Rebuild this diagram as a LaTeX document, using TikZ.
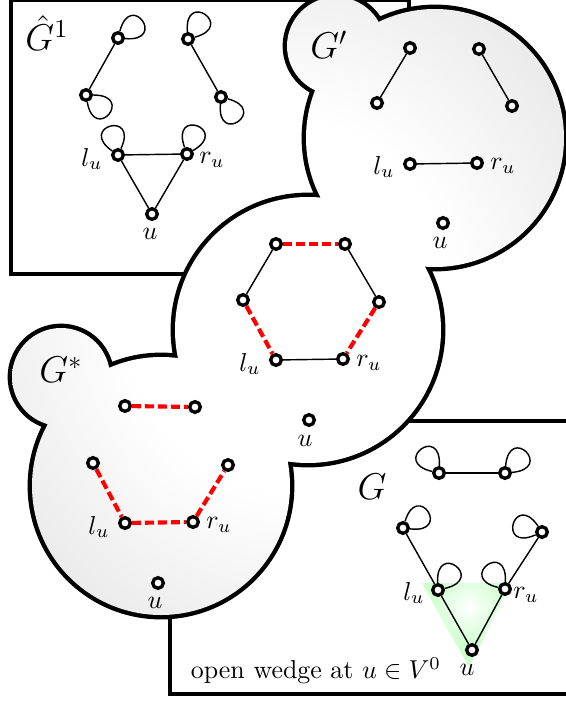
\documentclass[tikz,border=0pt]{standalone}
\usepackage{amsmath}
\usepackage{amssymb}
\usepackage{xcolor}
\usepackage{tikz}
\usetikzlibrary{arrows, arrows.meta}
\usetikzlibrary{positioning}
\usetikzlibrary{calc}

\pgfdeclareradialshading{blobshade}{\pgfpointorigin}{color(0bp)=(white); color(15bp)=(white); color(45bp)=(black!16); color(50bp)=(black!16)}

\begin{document}
\begin{tikzpicture}[x=0.386pt, y=-0.386pt,
	vtx/.style={circle, draw=black, fill=white, line width=1.3pt, inner sep=0pt, minimum size=4.1pt},
	edge/.style={line width=0.55pt},
	redge/.style={draw=red, line width=1.6pt, dash pattern=on 3.5pt off 1.5pt},
	lp/.style={line width=0.55pt, distance=16.5pt},
	frame/.style={line width=1.6pt},
	big/.style={font=\Large}]
	\useasboundingbox (0,0) rectangle (566,702);
	\clip (0,0) rectangle (566,702);
	% the two boxes
	\draw[frame, fill=white] (11,0) rectangle (409,274);
	\draw[frame, fill=white] (170,421) rectangle (600,694);
	% the blobs
	\coordinate (cPrime) at (435,138);
	\coordinate (cPrimeEar) at (336,46);
	\coordinate (cMid) at (308,330);
	\coordinate (cStar) at (161,486);
	\coordinate (cStarEar) at (61,377);
	\draw[line width=3.4pt] (cPrime) circle (129) (cPrimeEar) circle (49) (cMid) circle (133) (cStar) circle (129) (cStarEar) circle (49);
	\shade[shading=blobshade] (cPrime) circle (129) (cPrimeEar) circle (49) (cMid) circle (133) (cStar) circle (129) (cStarEar) circle (49);
	% green wedge
	\coordinate (w1) at (422,583);
	\coordinate (w2) at (511,583);
	\coordinate (w3) at (469,667);
	\fill[green!20] (w1) -- (w2) -- (w3) -- cycle;
	\begin{scope}
		\clip (w1) -- (w2) -- (w3) -- cycle;
		\shade[inner color=white, outer color=green!20] (469,607) circle (40);
	\end{scope}

	% hat G^1
	\node[big] (hatG) at (47,33) {$\hat{G}^1$};
	\node[vtx] (h1) at (118,38) {};
	\node[vtx] (h2) at (86,95) {};
	\node[vtx] (h3) at (188,39) {};
	\node[vtx] (h4) at (221,97) {};
	\node[vtx] (h5) at (118,155) {};
	\node[vtx] (h6) at (187,154) {};
	\node[vtx] (h7) at (152,214) {};
	\node (h5l) at (92,159) {$l_u$};
	\node (h6l) at (212,160) {$r_u$};
	\node (h7l) at (150,234) {$u$};
	\draw[edge] (h1) -- (h2);
	\draw[edge] (h3) -- (h4);
	\draw[edge] (h5) -- (h6);
	\draw[edge] (h5) -- (h7);
	\draw[edge] (h6) -- (h7);
	\draw[lp] (h1) to[out=75,in=-5] (h1);
	\draw[lp] (h2) to[out=0,in=-80] (h2);
	\draw[lp] (h3) to[out=95,in=15] (h3);
	\draw[lp] (h4) to[out=-15,in=-95] (h4);
	\draw[lp] (h5) to[out=145,in=65] (h5);
	\draw[lp] (h6) to[out=110,in=30] (h6);

	% G'
	\node[big] (primeG) at (329,45) {$G'$};
	\node[vtx] (p1) at (410,48) {};
	\node[vtx] (p2) at (377,103) {};
	\node[vtx] (p3) at (479,49) {};
	\node[vtx] (p4) at (512,106) {};
	\node[vtx] (p5) at (410,164) {};
	\node[vtx] (p6) at (477,163) {};
	\node[vtx] (p7) at (443,223) {};
	\node (p5l) at (384,167) {$l_u$};
	\node (p6l) at (503,166) {$r_u$};
	\node (p7l) at (440,243) {$u$};
	\draw[edge] (p1) -- (p2);
	\draw[edge] (p3) -- (p4);
	\draw[edge] (p5) -- (p6);

	% middle
	\node[vtx] (m1) at (276,244) {};
	\node[vtx] (m2) at (345,244) {};
	\node[vtx] (m3) at (243,300) {};
	\node[vtx] (m4) at (379,302) {};
	\node[vtx] (m5) at (276,360) {};
	\node[vtx] (m6) at (343,359) {};
	\node[vtx] (m7) at (309,420) {};
	\node (m5l) at (250,364) {$l_u$};
	\node (m6l) at (369,363) {$r_u$};
	\node (m7l) at (305,441) {$u$};
	\draw[redge] (m1) -- (m2);
	\draw[edge] (m1) -- (m3);
	\draw[edge] (m2) -- (m4);
	\draw[redge] (m3) -- (m5);
	\draw[redge] (m4) -- (m6);
	\draw[edge] (m5) -- (m6);

	% G^*
	\node[big] (starG) at (61,370) {$G^*$};
	\node[vtx] (s1) at (125,406) {};
	\node[vtx] (s2) at (195,407) {};
	\node[vtx] (s3) at (93,463) {};
	\node[vtx] (s4) at (228,465) {};
	\node[vtx] (s5) at (125,523) {};
	\node[vtx] (s6) at (193,522) {};
	\node[vtx] (s7) at (158,583) {};
	\node (s5l) at (99,527) {$l_u$};
	\node (s6l) at (219,525) {$r_u$};
	\node (s7l) at (155,603) {$u$};
	\draw[redge] (s1) -- (s2);
	\draw[redge] (s3) -- (s5);
	\draw[redge] (s5) -- (s6);
	\draw[redge] (s6) -- (s4);

	% G
	\node[big] (plainG) at (372,487) {$G$};
	\node[vtx] (g1) at (439,473) {};
	\node[vtx] (g2) at (505,473) {};
	\node[vtx] (g3) at (403,528) {};
	\node[vtx] (g4) at (542,532) {};
	\node[vtx] (g5) at (438,590) {};
	\node[vtx] (g6) at (505,589) {};
	\node[vtx] (g7) at (472,650) {};
	\node (g5l) at (414,593) {$l_u$};
	\node (g6l) at (526,595) {$r_u$};
	\node (g7l) at (467,670) {$u$};
	\node (wedge) at (316,671) {open wedge at $u\in V^0$};
	\draw[edge] (g1) -- (g2);
	\draw[edge] (g3) -- (g5);
	\draw[edge] (g4) -- (g6);
	\draw[edge] (g5) -- (g7);
	\draw[edge] (g6) -- (g7);
	\draw[lp] (g1) to[out=167,in=87] (g1);
	\draw[lp] (g2) to[out=85,in=5] (g2);
	\draw[lp] (g3) to[out=73,in=-7] (g3);
	\draw[lp] (g4) to[out=-156,in=124] (g4);
	\draw[lp] (g5) to[out=93,in=13] (g5);
	\draw[lp] (g6) to[out=167,in=87] (g6);
\end{tikzpicture}
\end{document}
